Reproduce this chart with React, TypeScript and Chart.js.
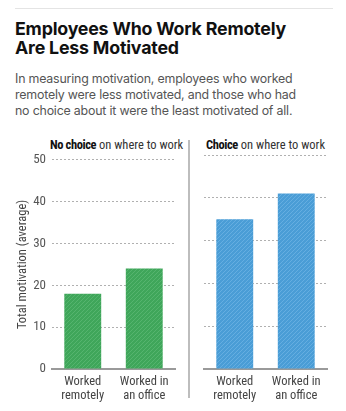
import React, { useEffect, useRef } from "react";
import { Chart, registerables } from "chart.js";

Chart.register(...registerables);

const categories: string[][] = [["Worked", "remotely"], ["Worked in", "an office"]];
const noChoiceValues = [18, 24];
const choiceValues = [35, 41];
const yTicks = [0, 10, 20, 30, 40, 50];

const NARROW = '"Roboto Condensed", "DejaVu Sans Condensed", sans-serif';

function makePattern(base: string, stripe: string): CanvasPattern | string {
  const c = document.createElement("canvas");
  c.width = 4;
  c.height = 4;
  const ctx = c.getContext("2d");
  if (!ctx) return base;
  ctx.fillStyle = base;
  ctx.fillRect(0, 0, 4, 4);
  ctx.strokeStyle = stripe;
  ctx.lineWidth = 0.8;
  ctx.beginPath();
  ctx.moveTo(0, 4);
  ctx.lineTo(4, 0);
  ctx.moveTo(-1, 1);
  ctx.lineTo(1, -1);
  ctx.moveTo(3, 5);
  ctx.lineTo(5, 3);
  ctx.stroke();
  const p = ctx.createPattern(c, "repeat");
  return p || base;
}

function makeConfig(values: number[], fill: any, showY: boolean, yWidth: number, padRight: number): any {
  return {
    type: "bar",
    data: {
      labels: categories,
      datasets: [
        {
          data: values,
          backgroundColor: fill,
          borderWidth: 0,
          barPercentage: 0.6,
          categoryPercentage: 1,
        },
      ],
    },
    options: {
      responsive: false,
      animation: false,
      layout: { padding: { top: 9, left: 0, right: padRight, bottom: 0 } },
      plugins: { legend: { display: false }, tooltip: { enabled: false } },
      scales: {
        x: {
          grid: { display: false, drawTicks: false },
          border: { display: true, color: "#9a9a9a", width: 2 },
          ticks: {
            color: "#444",
            font: { family: NARROW, size: 12.5, lineHeight: 1.12 },
            padding: 6,
            maxRotation: 0,
          },
          afterFit: (s: any) => {
            s.height = 39;
          },
        },
        y: {
          min: 0,
          max: 50,
          afterBuildTicks: (s: any) => {
            s.ticks = yTicks.map((v) => ({ value: v }));
          },
          grid: { display: true, color: "#b0b0b0", lineWidth: 1, drawTicks: false },
          border: { display: false, dash: [2, 2] },
          ticks: {
            display: showY,
            color: "#555",
            font: { family: NARROW, size: 13 },
            padding: 6,
          },
          title: {
            display: showY,
            text: "Total motivation (average)",
            color: "#444",
            font: { family: NARROW, size: 12.5 },
            padding: { top: 15, bottom: 0 },
          },
          afterFit: (s: any) => {
            s.width = yWidth;
          },
        },
      },
    },
  };
}

export default function App() {
  const leftRef = useRef<HTMLCanvasElement>(null);
  const rightRef = useRef<HTMLCanvasElement>(null);

  useEffect(() => {
    const green = makePattern("#3fa65a", "#5bb873");
    const blue = makePattern("#4a9dd6", "#6cb3e3");
    const c1 = new Chart(leftRef.current as HTMLCanvasElement, makeConfig(noChoiceValues, green, true, 52, 5));
    const c2 = new Chart(rightRef.current as HTMLCanvasElement, makeConfig(choiceValues, blue, false, 14, 13));
    return () => {
      c1.destroy();
      c2.destroy();
    };
  }, []);

  const panelTitle: React.CSSProperties = {
    position: "absolute",
    top: 137,
    fontFamily: NARROW,
    fontSize: 12.5,
    color: "#333",
    whiteSpace: "nowrap",
    textAlign: "center",
  };
  const boldPart: React.CSSProperties = {
    color: "#111",
    fontWeight: 700,
    letterSpacing: -0.4,
  };

  return (
    <div
      style={{
        position: "relative",
        width: 346,
        height: 411,
        margin: -8,
        background: "#fff",
        overflow: "hidden",
      }}
    >
      <div style={{ position: "absolute", left: 15, top: 8, width: 318, height: 1, background: "#e4e4e4" }} />
      <div
        style={{
          position: "absolute",
          left: 15,
          top: 19,
          width: 325,
          fontFamily: "Inter, Roboto, sans-serif",
          fontWeight: 700,
          fontSize: 17.8,
          lineHeight: "19px",
          color: "#111",
          letterSpacing: -0.2,
        }}
      >
        Employees Who Work Remotely
        <br />
        Are Less Motivated
      </div>
      <div
        style={{
          position: "absolute",
          left: 15,
          top: 71,
          width: 330,
          fontFamily: "Inter, Roboto, sans-serif",
          fontSize: 12.4,
          lineHeight: "16px",
          color: "#555",
          letterSpacing: -0.2,
        }}
      >
        In measuring motivation, employees who worked
        <br />
        remotely were less motivated, and those who had
        <br />
        no choice about it were the least motivated of all.
      </div>
      <div style={{ ...panelTitle, left: 50, width: 126 }}>
        <span style={boldPart}>No choice</span> on where to work
      </div>
      <div style={{ ...panelTitle, left: 204, width: 123 }}>
        <span style={boldPart}>Choice</span> on where to work
      </div>
      <div style={{ position: "absolute", left: 188, top: 140, width: 1.5, height: 258, background: "#bdbdbd" }} />
      <canvas
        ref={leftRef}
        width={180}
        height={262}
        style={{ position: "absolute", left: 0, top: 146, width: 180, height: 262 }}
      />
      <canvas
        ref={rightRef}
        width={150}
        height={262}
        style={{ position: "absolute", left: 190, top: 146, width: 150, height: 262 }}
      />
    </div>
  );
}
